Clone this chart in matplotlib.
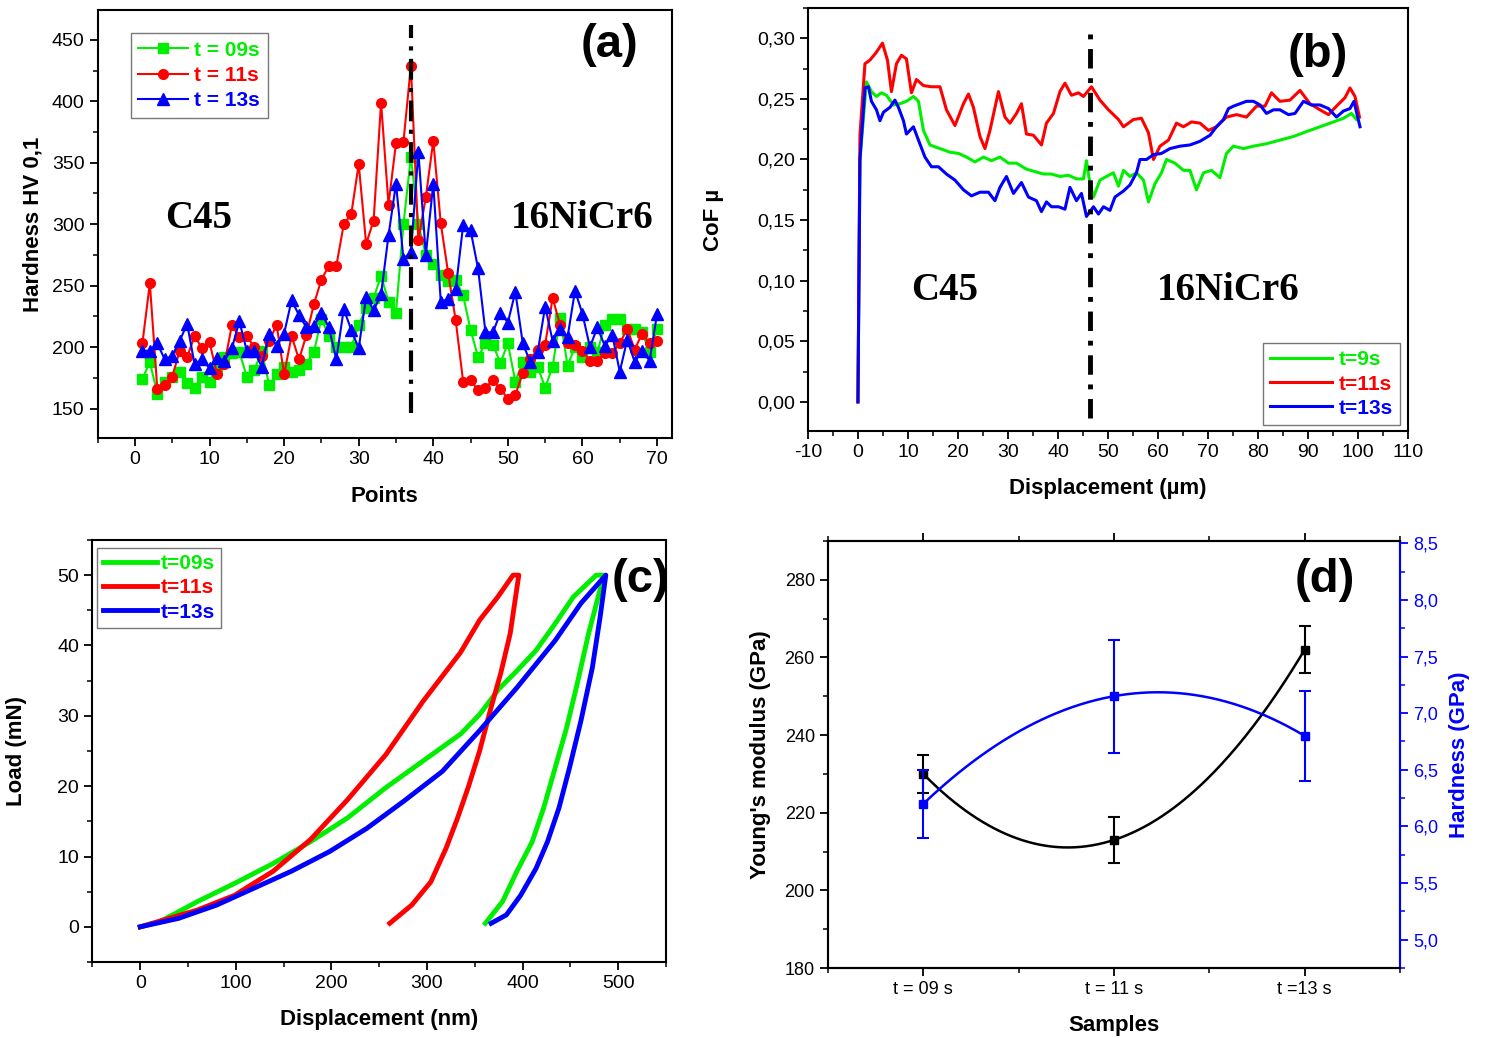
import numpy as np
import matplotlib
matplotlib.use("Agg")
import matplotlib.pyplot as plt
from matplotlib.ticker import MultipleLocator, FuncFormatter

plt.rcParams['font.family'] = ['Liberation Sans', 'DejaVu Sans']
plt.rcParams['axes.unicode_minus'] = False

GREEN = '#00ee00'
RED = '#ff0000'
BLUE = '#0000ff'

# ---- (a) micro hardness profile
points = np.arange(1, 71)
hv_09 = [174, 188, 162, 172, 176, 180, 171, 167, 176, 172,
         185, 192, 195, 196, 176, 181, 197, 169, 178, 184,
         180, 181, 186, 196, 223, 209, 200, 200, 200, 218,
         232, 240, 258, 237, 228, 300, 355, 300, 275, 268,
         259, 254, 255, 242, 214, 192, 203, 202, 187, 203,
         172, 188, 180, 184, 167, 184, 224, 185, 200, 192,
         200, 196, 218, 223, 223, 215, 215, 212, 196, 215]
hv_11 = [203, 252, 166, 169, 176, 197, 192, 209, 199, 204,
         178, 186, 218, 208, 209, 200, 193, 205, 218, 178,
         209, 190, 210, 235, 255, 266, 266, 300, 308, 349,
         284, 303, 399, 316, 366, 367, 429, 287, 322, 368,
         301, 260, 222, 172, 173, 165, 167, 173, 166, 158,
         161, 179, 190, 198, 202, 240, 218, 203, 202, 197,
         189, 189, 195, 195, 203, 215, 198, 211, 203, 205]
hv_13 = [197, 197, 203, 190, 193, 205, 219, 186, 190, 183,
         191, 189, 199, 221, 197, 197, 184, 211, 201, 211,
         238, 226, 216, 217, 228, 216, 190, 231, 214, 199,
         241, 230, 243, 291, 333, 272, 277, 359, 275, 333,
         237, 239, 247, 299, 295, 264, 212, 212, 228, 220,
         245, 203, 188, 196, 233, 205, 215, 208, 246, 227,
         200, 216, 201, 210, 180, 206, 188, 197, 189, 227]
interface_a = 37

# ---- (b) coefficient of friction
cof_x_09 = [0, 0.4, 1.7, 2.7, 3.7, 4.7, 5.7, 7.1, 8.4, 9.7, 11.1, 12.1, 13.1, 14.4, 15.7,
            17.1, 18.4, 20.1, 21.7, 23.4, 25.1, 26.7, 28.4, 30.1, 31.7, 33.7, 35.4, 37.1,
            38.7, 40.4, 42.1, 43.7, 45.1, 45.7, 46.4, 47.1, 48.4, 49.7, 51.1, 52.1, 53.1,
            54.4, 55.7, 57.1, 58.1, 59.4, 60.7, 61.7, 63.4, 65.1, 66.4, 67.7, 69.1, 70.7,
            72.4, 73.7, 75.1, 77.1, 79.1, 81.7, 84.4, 87.1, 89.7, 92.4, 95.1, 97.1, 98.7,
            99.7]
cof_09 = [0.0, 0.2, 0.264, 0.256, 0.252, 0.255, 0.253, 0.245, 0.246, 0.248, 0.252, 0.248,
          0.224, 0.212, 0.210, 0.208, 0.206, 0.205, 0.202, 0.198, 0.202, 0.199, 0.202,
          0.197, 0.197, 0.192, 0.190, 0.188, 0.188, 0.186, 0.187, 0.184, 0.184, 0.199,
          0.180, 0.169, 0.183, 0.186, 0.189, 0.178, 0.191, 0.186, 0.189, 0.183, 0.165,
          0.180, 0.189, 0.200, 0.197, 0.191, 0.191, 0.175, 0.189, 0.191, 0.185, 0.205,
          0.211, 0.209, 0.211, 0.213, 0.216, 0.219, 0.223, 0.227, 0.231, 0.234, 0.238,
          0.233]
cof_x_11 = [0, 0.4, 1.4, 2.4, 3.6, 4.9, 5.9, 6.7, 7.7, 8.7, 9.7, 10.7, 11.7, 13.1, 14.7,
            16.4, 17.7, 19.4, 21.1, 22.1, 23.1, 24.4, 25.4, 26.4, 28.1, 29.4, 30.4, 31.7,
            32.7, 33.7, 35.1, 36.7, 37.7, 39.1, 40.4, 41.4, 42.7, 44.1, 45.1, 46.7, 48.4,
            50.1, 52.1, 53.1, 55.1, 56.7, 58.1, 59.1, 60.4, 62.1, 63.7, 65.1, 66.7, 68.4,
            70.1, 71.7, 73.7, 75.7, 77.7, 79.7, 81.4, 82.7, 84.4, 86.4, 88.4, 90.4, 92.4,
            94.1, 95.7, 97.4, 98.4, 99.4, 100.3]
cof_11 = [0.0, 0.22, 0.279, 0.282, 0.288, 0.296, 0.282, 0.256, 0.279, 0.286, 0.283, 0.255,
          0.266, 0.261, 0.260, 0.260, 0.241, 0.228, 0.246, 0.254, 0.243, 0.219, 0.209,
          0.224, 0.256, 0.235, 0.230, 0.238, 0.246, 0.221, 0.220, 0.212, 0.230, 0.238,
          0.256, 0.263, 0.253, 0.255, 0.252, 0.260, 0.249, 0.241, 0.233, 0.227, 0.233,
          0.234, 0.222, 0.200, 0.211, 0.216, 0.230, 0.227, 0.231, 0.230, 0.224, 0.227,
          0.235, 0.237, 0.235, 0.244, 0.244, 0.255, 0.248, 0.249, 0.257, 0.246, 0.241,
          0.237, 0.244, 0.251, 0.259, 0.252, 0.235]
cof_x_13 = [0, 0.4, 1.4, 2.1, 2.7, 3.7, 4.4, 5.1, 6.4, 7.4, 8.1, 9.1, 9.7, 11.1, 12.1, 13.4,
            14.7, 16.1, 17.7, 19.4, 21.1, 22.7, 24.4, 26.1, 27.4, 28.4, 29.7, 31.1, 32.7,
            34.1, 35.7, 36.7, 37.7, 38.7, 40.1, 41.4, 42.4, 43.7, 44.7, 45.7, 47.1, 48.1,
            49.1, 50.4, 51.4, 53.1, 54.4, 55.7, 56.4, 57.7, 59.1, 60.7, 62.4, 64.4, 66.4,
            68.4, 70.4, 71.7, 73.1, 74.1, 75.1, 76.4, 77.7, 79.1, 80.4, 81.7, 83.1, 84.4,
            86.1, 87.4, 89.1, 90.7, 92.4, 94.1, 95.7, 97.1, 98.4, 99.2, 100.4]
cof_13 = [0.0, 0.2, 0.259, 0.260, 0.248, 0.241, 0.232, 0.239, 0.243, 0.249, 0.243, 0.232,
          0.221, 0.227, 0.216, 0.202, 0.194, 0.194, 0.188, 0.183, 0.175, 0.170, 0.173,
          0.173, 0.166, 0.177, 0.186, 0.172, 0.181, 0.169, 0.166, 0.157, 0.165, 0.161,
          0.161, 0.159, 0.177, 0.166, 0.172, 0.153, 0.161, 0.155, 0.161, 0.158, 0.169,
          0.174, 0.179, 0.189, 0.200, 0.200, 0.204, 0.205, 0.209, 0.211, 0.212, 0.215,
          0.220, 0.227, 0.233, 0.242, 0.244, 0.246, 0.248, 0.248, 0.245, 0.238, 0.241,
          0.241, 0.237, 0.238, 0.248, 0.245, 0.245, 0.242, 0.235, 0.240, 0.242, 0.248,
          0.227]
interface_b = 46.5

# ---- (c) load-displacement curves
disp_09 = [0, 20, 60, 99, 139, 178, 217, 257, 296, 335, 355, 375, 394, 414, 434, 453, 477,
           485, 469, 457, 446, 434, 422, 410, 394, 379, 361]
load_09 = [0, 0.7, 3.6, 6.2, 9.0, 12.1, 15.5, 19.8, 23.6, 27.4, 30.2, 33.8, 36.4, 39.3,
           43.1, 46.9, 50.0, 50.0, 41.7, 34.5, 28.3, 22.6, 16.9, 12.1, 7.9, 3.6, 0.5]
disp_11 = [0, 60, 99, 107, 139, 178, 217, 257, 296, 335, 355, 374, 390, 396, 387, 377,
           367, 355, 343, 332, 320, 304, 284, 261]
load_11 = [0, 2.4, 4.5, 5.2, 7.9, 12.4, 18.1, 24.5, 32.1, 39.0, 43.6, 46.9, 50.0, 50.0,
           41.7, 36.0, 31.2, 25.0, 19.8, 15.5, 11.2, 6.4, 3.1, 0.5]
disp_13 = [0, 40, 80, 119, 158, 198, 237, 276, 316, 355, 394, 434, 461, 487, 481, 473, 461,
           449, 438, 426, 414, 398, 383, 367]
load_13 = [0, 1.2, 3.1, 5.5, 7.9, 10.7, 14.0, 17.9, 22.1, 27.9, 34.0, 40.7, 46.0, 50.0,
           44.0, 36.9, 29.3, 22.6, 16.9, 12.1, 8.3, 4.5, 1.7, 0.5]

# ---- (d) modulus and nano hardness
samples = ['t = 09 s', 't = 11 s', 't =13 s']
young = [230, 213, 262]
young_err = [5, 6, 6]
hardness = [6.2, 7.15, 6.8]
hardness_err = [0.3, 0.5, 0.4]

fig = plt.figure(figsize=(14.86, 10.38), dpi=100)

TICK_FS = 14
LABEL_FS = 16
TAG_FS = 34
LEG = {'weight': 'bold', 'size': 15}


def style_axes(ax):
    for s in ax.spines.values():
        s.set_linewidth(1.5)
    ax.tick_params(which='major', direction='out', length=6, width=1.3, labelsize=TICK_FS)
    ax.tick_params(which='minor', direction='out', length=3.5, width=1.1)


def comma(fmt):
    return FuncFormatter(lambda v, p: (fmt % v).replace('.', ','))


def color_legend(leg):
    for t, c in zip(leg.get_texts(), [GREEN, RED, BLUE]):
        t.set_color(c)


# (a)
ax = fig.add_axes([0.0657, 0.578, 0.3865, 0.412])
ax.plot(points, hv_09, '-s', color=GREEN, ms=7, lw=1.5, label='t = 09s')
ax.plot(points, hv_11, '-o', color=RED, ms=7, lw=1.5, label='t = 11s')
ax.plot(points, hv_13, '-^', color=BLUE, ms=8, lw=1.5, label='t = 13s')
ax.axvline(interface_a, ymin=0.058, ymax=0.965, color='black', lw=3,
           linestyle=(0, (5, 2, 1, 2)))
ax.set_xlim(-5, 72)
ax.set_ylim(126, 474)
ax.xaxis.set_major_locator(MultipleLocator(10))
ax.xaxis.set_minor_locator(MultipleLocator(5))
ax.yaxis.set_major_locator(MultipleLocator(50))
ax.yaxis.set_minor_locator(MultipleLocator(25))
style_axes(ax)
ax.set_xlabel('Points', fontsize=LABEL_FS, fontweight='bold', labelpad=13)
ax.set_ylabel('Hardness HV 0,1', fontsize=LABEL_FS, fontweight='bold', labelpad=6)
leg = ax.legend(loc='upper left', bbox_to_anchor=(0.058, 0.946), borderaxespad=0,
                fancybox=False, edgecolor='#555555', handlelength=2.4, prop=LEG,
                labelspacing=0.3, handletextpad=0.3, borderpad=0.35)
color_legend(leg)
ax.text(0.892, 0.918, '(a)', transform=ax.transAxes, fontsize=TAG_FS, fontweight='bold',
        ha='center', va='center')
ax.text(0.175, 0.514, 'C45', transform=ax.transAxes, fontsize=28, fontweight='bold',
        family='Liberation Serif', ha='center', va='center')
ax.text(0.843, 0.514, '16NiCr6', transform=ax.transAxes, fontsize=28, fontweight='bold',
        family='Liberation Serif', ha='center', va='center')

# (b)
ax = fig.add_axes([0.5437, 0.5848, 0.4038, 0.4075])
ax.plot(cof_x_09, cof_09, color=GREEN, lw=2.2, label='t=9s')
ax.plot(cof_x_11, cof_11, color=RED, lw=2.2, label='t=11s')
ax.plot(cof_x_13, cof_13, color=BLUE, lw=2.2, label='t=13s')
ax.axvline(interface_b, ymin=0.03, ymax=0.95, color='black', lw=3.5,
           linestyle=(0, (4, 2, 1, 2)))
ax.set_xlim(-10, 110)
ax.set_ylim(-0.024, 0.325)
ax.xaxis.set_major_locator(MultipleLocator(10))
ax.xaxis.set_minor_locator(MultipleLocator(5))
ax.yaxis.set_major_locator(MultipleLocator(0.05))
ax.yaxis.set_minor_locator(MultipleLocator(0.025))
ax.yaxis.set_major_formatter(comma('%.2f'))
style_axes(ax)
ax.set_xlabel('Displacement (µm)', fontsize=LABEL_FS, fontweight='bold', labelpad=12)
ax.set_ylabel('CoF µ', fontsize=LABEL_FS, fontweight='bold', labelpad=24)
leg = ax.legend(loc='lower right', bbox_to_anchor=(0.987, 0.014), borderaxespad=0,
                fancybox=False, edgecolor='#555555', handlelength=3.0, prop=LEG,
                labelspacing=0.25, handletextpad=0.3, borderpad=0.35)
color_legend(leg)
ax.text(0.85, 0.889, '(b)', transform=ax.transAxes, fontsize=TAG_FS, fontweight='bold',
        ha='center', va='center')
ax.text(0.228, 0.333, 'C45', transform=ax.transAxes, fontsize=28, fontweight='bold',
        family='Liberation Serif', ha='center', va='center')
ax.text(0.70, 0.333, '16NiCr6', transform=ax.transAxes, fontsize=28, fontweight='bold',
        family='Liberation Serif', ha='center', va='center')

# (c)
ax = fig.add_axes([0.0622, 0.0732, 0.386, 0.4066])
ax.plot(disp_09, load_09, color=GREEN, lw=3.5, label='t=09s')
ax.plot(disp_11, load_11, color=RED, lw=3.5, label='t=11s')
ax.plot(disp_13, load_13, color=BLUE, lw=3.5, label='t=13s')
ax.set_xlim(-50, 550)
ax.set_ylim(-5, 55)
ax.xaxis.set_major_locator(MultipleLocator(100))
ax.xaxis.set_minor_locator(MultipleLocator(50))
ax.yaxis.set_major_locator(MultipleLocator(10))
ax.yaxis.set_minor_locator(MultipleLocator(5))
style_axes(ax)
ax.set_xlabel('Displacement (nm)', fontsize=LABEL_FS, fontweight='bold', labelpad=12)
ax.set_ylabel('Load (mN)', fontsize=LABEL_FS, fontweight='bold', labelpad=22)
leg = ax.legend(loc='upper left', bbox_to_anchor=(0.008, 0.981), borderaxespad=0,
                fancybox=False, edgecolor='#555555', handlelength=2.6, prop=LEG,
                labelspacing=0.25, handletextpad=0.15, borderpad=0.3)
color_legend(leg)
ax.text(0.955, 0.905, '(c)', transform=ax.transAxes, fontsize=TAG_FS, fontweight='bold',
        ha='center', va='center', clip_on=False)

# (d)
ax = fig.add_axes([0.5572, 0.0674, 0.3849, 0.4114])
xs = np.arange(len(samples))
xf = np.linspace(0, 2, 200)
ax.plot(xf, np.polyval(np.polyfit(xs, young, 2), xf), color='black', lw=1.8)
ax.errorbar(xs, young, yerr=young_err, fmt='s', color='black', ms=6, capsize=4,
            elinewidth=1.5, capthick=1.5)
ax.set_xlim(-0.5, 2.5)
ax.set_ylim(180, 290)
ax.set_xticks(xs)
ax.set_xticklabels(samples)
ax.xaxis.set_minor_locator(MultipleLocator(0.5))
ax.yaxis.set_major_locator(MultipleLocator(20))
ax.yaxis.set_minor_locator(MultipleLocator(10))
style_axes(ax)
ax.tick_params(axis='x', which='both', top=True, labelsize=13)
ax.tick_params(axis='y', labelsize=13)
ax.set_xlabel('Samples', fontsize=LABEL_FS, fontweight='bold', labelpad=12)
ax.set_ylabel("Young's modulus (GPa)", fontsize=LABEL_FS, fontweight='bold', labelpad=10)
ax.text(0.869, 0.909, '(d)', transform=ax.transAxes, fontsize=TAG_FS, fontweight='bold',
        ha='center', va='center')

ax2 = ax.twinx()
ax2.plot(xf, np.polyval(np.polyfit(xs, hardness, 2), xf), color=BLUE, lw=1.8)
ax2.errorbar(xs, hardness, yerr=hardness_err, fmt='s', color=BLUE, ms=6, capsize=4,
             elinewidth=1.5, capthick=1.5)
ax2.set_ylim(4.75, 8.52)
ax2.yaxis.set_major_locator(MultipleLocator(0.5))
ax2.yaxis.set_minor_locator(MultipleLocator(0.25))
ax2.yaxis.set_major_formatter(comma('%.1f'))
style_axes(ax2)
ax2.tick_params(axis='y', labelsize=13)
ax2.spines['right'].set_color(BLUE)
ax2.tick_params(axis='y', which='both', colors=BLUE)
ax2.set_ylabel('Hardness (GPa)', fontsize=LABEL_FS, fontweight='bold', color=BLUE,
               labelpad=8)

fig.savefig('out.png', dpi=100)
